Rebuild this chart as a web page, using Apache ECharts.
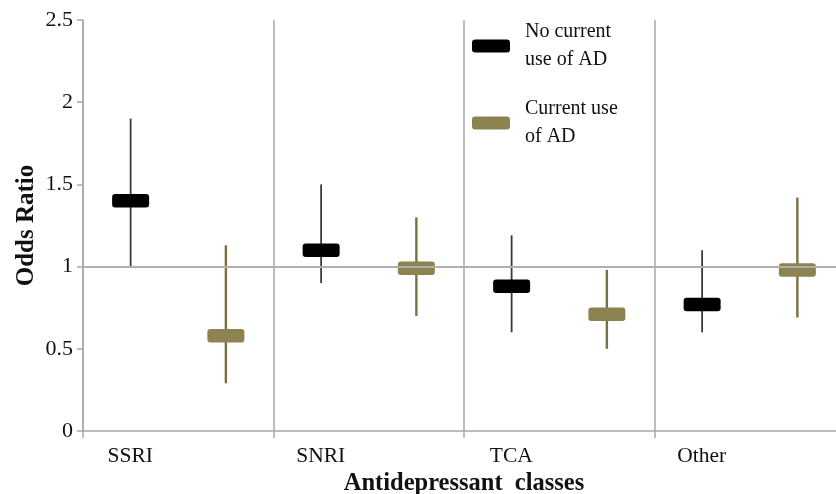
<!DOCTYPE html>
<html>
<head>
<meta charset="utf-8">
<script src="https://cdn.jsdelivr.net/npm/echarts@6/dist/echarts.min.js"></script>
<style>html,body{margin:0;padding:0;background:#fff;}#c{width:836px;height:494px;}</style>
</head>
<body>
<div id="c"></div>
<script>
var categories = ['SSRI', 'SNRI', 'TCA', 'Other'];
var seriesNames = ['No current\nuse of AD', 'Current use\nof AD'];
var noUseOR = [1.40, 1.10, 0.88, 0.77];
var noUseLow = [1.00, 0.90, 0.60, 0.60];
var noUseHigh = [1.90, 1.50, 1.19, 1.10];
var useOR = [0.58, 0.99, 0.71, 0.98];
var useLow = [0.29, 0.70, 0.50, 0.69];
var useHigh = [1.13, 1.30, 0.98, 1.42];
var yTicks = [0, 0.5, 1, 1.5, 2, 2.5];
var refValue = 1;

var BLACK = '#000000', GOLD = '#8c8350';
var serif = '"Liberation Serif", "Times New Roman", serif';

function build(or, lo, hi) {
  return categories.map(function (c, i) { return [i, or[i], lo[i], hi[i]]; });
}
function makeRender(side, whiskerColor, whiskerWidth, boxColor) {
  return function (params, api) {
    var idx = api.value(0);
    var band = api.size([1, 0])[0];
    var mid = api.coord([idx, api.value(1)]);
    var lo = api.coord([idx, api.value(2)]);
    var hi = api.coord([idx, api.value(3)]);
    var x = mid[0] + side * band / 4;
    var w = 37, h = 13.5;
    return {
      type: 'group',
      children: [
        { type: 'line', shape: { x1: x, y1: hi[1], x2: x, y2: lo[1] },
          style: { stroke: whiskerColor, lineWidth: whiskerWidth } },
        { type: 'rect', shape: { x: x - w / 2, y: mid[1] - h / 2, width: w, height: h, r: 3 },
          style: { fill: boxColor } }
      ]
    };
  };
}

var chart = echarts.init(document.getElementById('c'), null, { renderer: 'canvas' });
chart.setOption({
  animation: false,
  backgroundColor: '#ffffff',
  grid: { left: 83, right: -9, top: 20, bottom: 63, containLabel: false, outerBoundsMode: 'none' },
  legend: {
    left: 472, top: 14, padding: 0, orient: 'vertical',
    itemWidth: 38, itemHeight: 13, itemGap: 13,
    textStyle: { fontFamily: serif, fontSize: 20, color: '#111', lineHeight: 28, padding: [8, 0, 0, 10] },
    data: [
      { name: seriesNames[0], icon: 'roundRect', itemStyle: { color: BLACK } },
      { name: seriesNames[1], icon: 'roundRect', itemStyle: { color: GOLD } }
    ],
    selectedMode: false
  },
  xAxis: {
    type: 'category', data: categories, boundaryGap: true,
    name: 'Antidepressant  classes', nameLocation: 'middle', nameGap: 40, nameMoveOverlap: false,
    nameTextStyle: { fontFamily: serif, fontSize: 24.5, fontWeight: 'bold', color: '#111' },
    axisLine: { show: true, lineStyle: { color: '#a8a8a8', width: 1.5 } },
    axisTick: { show: true, length: 7, lineStyle: { color: '#a8a8a8', width: 1.5 } },
    splitLine: { show: true, lineStyle: { color: '#a8a8a8', width: 1.5 } },
    axisLabel: { fontFamily: serif, fontSize: 21.5, color: '#111', margin: 14, padding: [0, 96, 0, 0] }
  },
  yAxis: {
    type: 'value', min: yTicks[0], max: yTicks[yTicks.length - 1], interval: 0.5,
    name: 'Odds Ratio', nameLocation: 'middle', nameGap: 44, nameRotate: 90, nameMoveOverlap: false,
    nameTextStyle: { fontFamily: serif, fontSize: 25, fontWeight: 'bold', color: '#111' },
    axisLine: { show: true, lineStyle: { color: '#a8a8a8', width: 1.5 } },
    axisTick: { show: true, length: 6, lineStyle: { color: '#a8a8a8', width: 1.5 } },
    splitLine: { show: false },
    axisLabel: { fontFamily: serif, fontSize: 22, color: '#111', margin: 10 }
  },
  series: [
    {
      type: 'line', data: [], z: 1, silent: true,
      markLine: { silent: true, symbol: 'none', label: { show: false },
        lineStyle: { color: '#b0b0b0', width: 2, type: 'solid' },
        data: [{ yAxis: refValue }] }
    },
    {
      name: seriesNames[0], type: 'custom', z: 3, itemStyle: { color: BLACK },
      encode: { x: 0, y: [1, 2, 3] },
      renderItem: makeRender(-1, '#3a3a3a', 1.8, BLACK),
      data: build(noUseOR, noUseLow, noUseHigh)
    },
    {
      name: seriesNames[1], type: 'custom', z: 3, itemStyle: { color: GOLD },
      encode: { x: 0, y: [1, 2, 3] },
      renderItem: makeRender(1, '#7a7140', 2.4, GOLD),
      data: build(useOR, useLow, useHigh)
    }
  ]
});
</script>
</body>
</html>
